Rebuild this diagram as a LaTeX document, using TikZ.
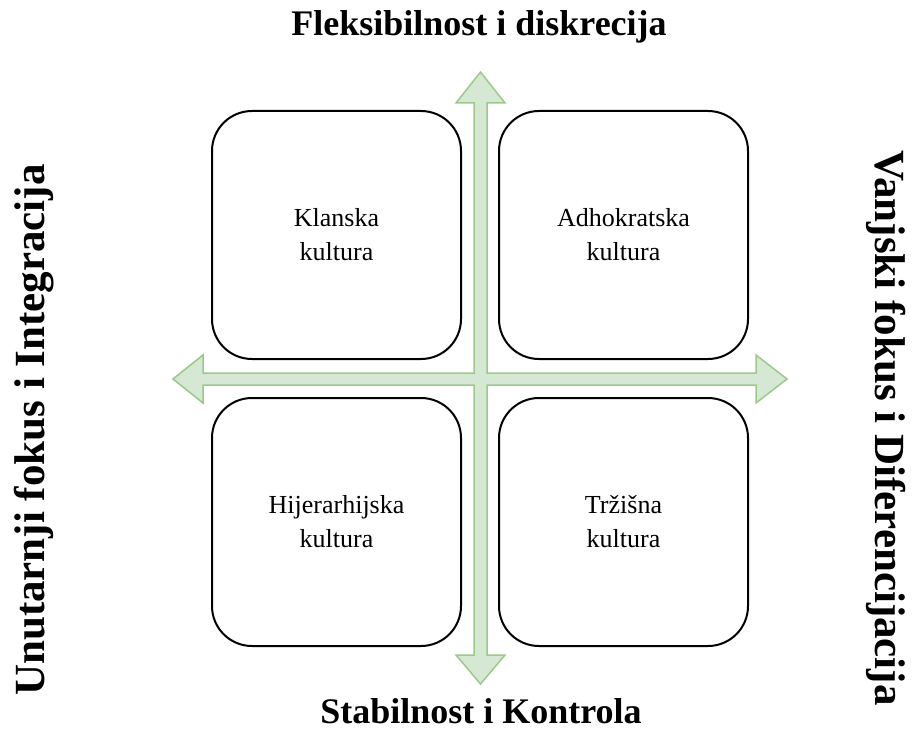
\documentclass[tikz,border=0pt]{standalone}
\usepackage{fontspec}
\setmainfont{Liberation Serif}
\definecolor{arrfill}{HTML}{D5E8D4}
\definecolor{arrdraw}{HTML}{9CC98A}
\tikzset{
  quad/.style={draw=black, line width=2pt, rounded corners=40pt, minimum width=249pt, minimum height=248pt, inner sep=0pt, align=center, font=\fontsize{26}{34}\selectfont},
  axislabel/.style={font=\fontsize{36}{40}\selectfont\bfseries, inner sep=0pt},
  sidelabel/.style={font=\fontsize{43}{46}\selectfont\bfseries, inner sep=0pt}
}
\begin{document}
\begin{tikzpicture}[x=1pt,y=-1pt]
\useasboundingbox (0,0) rectangle (920,733);
% cross arrows
\draw[fill=arrfill, draw=arrdraw, line width=1.5pt, line join=miter]
  (480.5,72) -- (505,103) -- (487,103) -- (487,373) -- (756,373) -- (756,355) -- (787,379)
  -- (756,403) -- (756,385) -- (487,385) -- (487,655) -- (505,655) -- (480.5,684)
  -- (456,655) -- (474,655) -- (474,385) -- (203,385) -- (203,403) -- (173,379)
  -- (203,355) -- (203,373) -- (474,373) -- (474,103) -- (456,103) -- cycle;
% boxes
\node[quad] (clan) at (336.5,235) {Klanska\\kultura};
\node[quad] (adhoc) at (623.5,235) {Adhokratska\\kultura};
\node[quad] (hier) at (336.5,522) {Hijerarhijska\\kultura};
\node[quad] (market) at (623.5,522) {Tržišna\\kultura};
% labels
\node[axislabel] (top) at (479,27) {Fleksibilnost i diskrecija};
\node[axislabel] (bottom) at (481,711) {Stabilnost i Kontrola};
\node[sidelabel, rotate=90] (left) at (34,430) {Unutarnji fokus i Integracija};
\node[sidelabel, rotate=-90] (right) at (886,428) {Vanjski fokus i Diferencijacija};
\end{tikzpicture}
\end{document}
